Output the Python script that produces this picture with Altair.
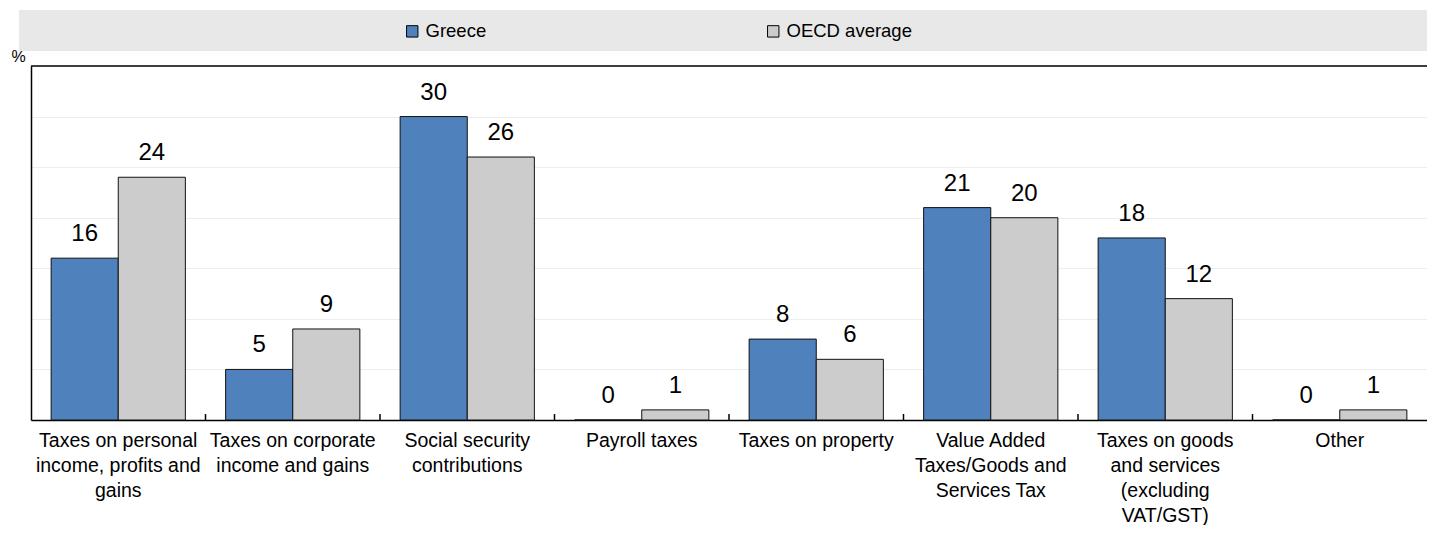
import altair as alt
import pandas as pd

categories = [
    "Taxes on personal\nincome, profits and\ngains",
    "Taxes on corporate\nincome and gains",
    "Social security\ncontributions",
    "Payroll taxes",
    "Taxes on property",
    "Value Added\nTaxes/Goods and\nServices Tax",
    "Taxes on goods\nand services\n(excluding\nVAT/GST)",
    "Other",
]
series = ["Greece", "OECD average"]
greece = [16, 5, 30, 0, 8, 21, 18, 0]
oecd = [24, 9, 26, 1, 6, 20, 12, 1]
colors = ["#4F81BD", "#CCCCCC"]

rows = []
for c, g, o in zip(categories, greece, oecd):
    rows.append({"cat": c, "series": "Greece", "value": g})
    rows.append({"cat": c, "series": "OECD average", "value": o})
df = pd.DataFrame(rows)

W, H = 1396, 354
FONT = "Liberation Sans, Arial, sans-serif"

xenc = alt.X("cat:N", sort=categories, title=None,
             scale=alt.Scale(paddingInner=0, paddingOuter=0),
             axis=alt.Axis(labelAngle=0, labelExpr="split(datum.label, '\\n')",
                           labelFontSize=19.5, labelLineHeight=25, labelColor="#000",
                           labelFont=FONT, labelLimit=0, labelPadding=11,
                           ticks=False, domainColor="#000", domainWidth=1.5,
                           labelBaseline="top"))
yscale = alt.Scale(domain=[0, 35], nice=False)

band = alt.Chart(alt.Data(values=[{}])).mark_rect(color="#E8E8E8").encode(
    x=alt.value(-12), x2=alt.value(W + 8), y=alt.value(-56), y2=alt.value(-15))

bars = alt.Chart(df).mark_bar(stroke="#111", strokeWidth=1).encode(
    x=xenc,
    xOffset=alt.XOffset("series:N", sort=series,
                        scale=alt.Scale(paddingInner=0, paddingOuter=0.3)),
    y=alt.Y("value:Q", scale=yscale,
            axis=alt.Axis(title="%", titleAngle=0, titleX=-13, titleY=-10,
                          titleFontSize=16, titleFontWeight="normal", titleFont=FONT,
                          titleColor="#000",
                          titleAlign="center", titleBaseline="middle",
                          labels=False, ticks=False, values=[0, 5, 10, 15, 20, 25, 30, 35],
                          gridColor="#EDEDED", gridWidth=1,
                          domainColor="#000", domainWidth=1.5)),
    color=alt.Color("series:N", sort=series,
                    scale=alt.Scale(domain=series, range=colors),
                    legend=alt.Legend(title=None, orient="none", legendX=372, legendY=-44,
                                      direction="horizontal", symbolType="square",
                                      symbolSize=130, symbolStrokeColor="#000",
                                      symbolStrokeWidth=1, labelFontSize=18.5, labelFont=FONT,
                                      labelColor="#000", columnPadding=277, labelOffset=4)),
)

labels = alt.Chart(df).mark_text(baseline="alphabetic", dy=-17, fontSize=24, font=FONT,
                                 color="#000").encode(
    x=alt.X("cat:N", sort=categories),
    xOffset=alt.XOffset("series:N", sort=series),
    y=alt.Y("value:Q", scale=yscale),
    text=alt.Text("value:Q", format=".0f"),
)

tick_df = pd.DataFrame({"cat": categories[1:]})
ticks = alt.Chart(tick_df).mark_rule(color="#000", strokeWidth=1.5).encode(
    x=alt.X("cat:N", sort=categories, bandPosition=0),
    y=alt.value(H), y2=alt.value(H - 6))

top = alt.Chart(alt.Data(values=[{"v": 35}])).mark_rule(color="#000", strokeWidth=1.5).encode(
    y=alt.Y("v:Q", scale=yscale))

chart = alt.layer(band, bars, labels, ticks, top).properties(
    width=W, height=H,
    autosize=alt.AutoSizeParams(type="none"),
    padding={"left": 23, "top": 58, "right": 0, "bottom": 105},
).configure_view(stroke=None).configure(font=FONT)

chart.save("out.html", embed_options={"renderer": "svg", "actions": False})
